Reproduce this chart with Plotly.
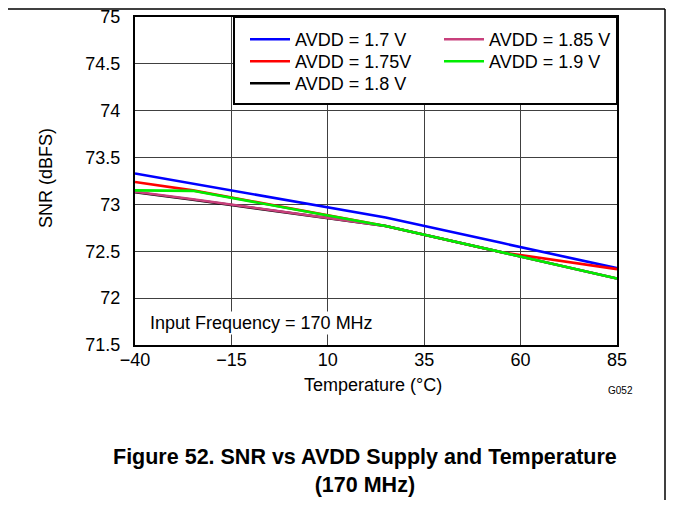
import plotly.graph_objects as go

temps = [-40, -25, 25, 55, 85]
snr_170 = [73.33, 73.22, 72.86, 72.59, 72.32]
snr_175 = [73.24, 73.15, 72.77, 72.49, 72.31]
snr_180 = [73.13, 73.05, 72.77, 72.49, 72.21]
snr_185 = [73.135, 73.055, 72.77, 72.49, 72.21]
snr_190 = [73.15, 73.145, 72.77, 72.49, 72.21]

names = ["AVDD = 1.7 V", "AVDD = 1.75V", "AVDD = 1.8 V", "AVDD = 1.85 V", "AVDD = 1.9 V"]
values = [snr_170, snr_175, snr_180, snr_185, snr_190]
colors = ["#0000ff", "#ff0000", "#000000", "#c8407c", "#00ee00"]

x_ticks = [-40, -15, 10, 35, 60, 85]
y_ticks = [71.5, 72, 72.5, 73, 73.5, 74, 74.5, 75]

FONT = "Liberation Sans, Arial, sans-serif"
FS = 18

# page-pixel layout (page body has an 8px margin)
OFF = 8
W, H = 674 - 2 * OFF, 508 - 2 * OFF
PL, PR, PT, PB = 135, 617, 17, 345          # plot box in page pixels
L, T = PL - OFF, PT - OFF
R, B = W - (PR - OFF), H - (PB - OFF)
pw, ph = PR - PL, PB - PT


def px(x):
    return (x - PL) / pw


def py(y):
    return (PB - y) / ph


# legend slots: (line start x, row centre y) in page pixels
slots = [(250, 39), (250, 61), (250, 83), (444, 39), (444, 61)]
legend_keys = ["legend", "legend2", "legend3", "legend4", "legend5"]

fig = go.Figure()
for name, vals, color, key in zip(names, values, colors, legend_keys):
    fig.add_trace(go.Scatter(x=temps, y=vals, mode="lines", name=name,
                             line=dict(color=color, width=2.6), legend=key))

leg_layout = {}
for key, (sx, sy) in zip(legend_keys, slots):
    leg_layout[key] = dict(orientation="v", xanchor="left", yanchor="top",
                           x=px(sx - 5), y=py(sy - 18),
                           bgcolor="rgba(0,0,0,0)", borderwidth=0,
                           font=dict(size=FS, family=FONT), itemwidth=40)

fig.update_layout(
    width=W, height=H,
    margin=dict(l=L, r=R, t=T, b=B),
    paper_bgcolor="white", plot_bgcolor="white",
    font=dict(family=FONT, size=FS, color="black"),
    showlegend=True,
    **leg_layout,
    xaxis=dict(range=[-40, 85], tickvals=x_ticks, showgrid=True, gridcolor="#404040",
               gridwidth=1, showline=True, linecolor="black", linewidth=2, mirror=True,
               ticks="", zeroline=False, ticklabelstandoff=-3, automargin=False,
               ticklabeloverflow="allow"),
    yaxis=dict(range=[71.5, 75], tickvals=y_ticks, showgrid=True, gridcolor="#404040",
               gridwidth=1, showline=True, linecolor="black", linewidth=2, mirror=True,
               ticks="", zeroline=False, ticklabelstandoff=9, automargin=False,
               ticklabeloverflow="allow"),
    shapes=[
        dict(type="rect", xref="paper", yref="paper", x0=px(234), x1=1, y0=py(104), y1=1,
             fillcolor="white", line=dict(color="black", width=2), layer="above"),
        dict(type="line", xref="paper", yref="paper", x0=px(OFF), x1=px(665),
             y0=py(OFF + 1), y1=py(OFF + 1),
             line=dict(color="black", width=1.5), layer="above"),
        dict(type="line", xref="paper", yref="paper", x0=px(665), x1=px(665),
             y0=py(OFF + 1), y1=py(500),
             line=dict(color="black", width=1.5), layer="above"),
    ],
    annotations=[
        dict(text="SNR (dBFS)", xref="paper", yref="paper", x=px(46), y=py(178),
             xanchor="center", yanchor="middle",
             textangle=-90, showarrow=False, font=dict(size=FS)),
        dict(text="Temperature (°C)", xref="paper", yref="paper", x=px(373), y=py(385),
             xanchor="center", yanchor="middle", showarrow=False, font=dict(size=FS)),
        dict(text="G052", xref="paper", yref="paper", x=px(620), y=py(390),
             xanchor="center", yanchor="middle", showarrow=False, font=dict(size=10)),
        dict(text="Input Frequency = 170 MHz", xref="paper", yref="paper", x=px(148),
             y=py(323), xanchor="left", yanchor="middle", showarrow=False,
             font=dict(size=FS), bgcolor="white"),
        dict(text="<b>Figure 52. SNR vs AVDD Supply and Temperature</b><br><b>(170 MHz)</b>",
             xref="paper", yref="paper", x=px(365), y=py(499), xanchor="center",
             yanchor="bottom", align="center", showarrow=False, font=dict(size=21.5)),
    ],
)

fig.write_html("out.html")
